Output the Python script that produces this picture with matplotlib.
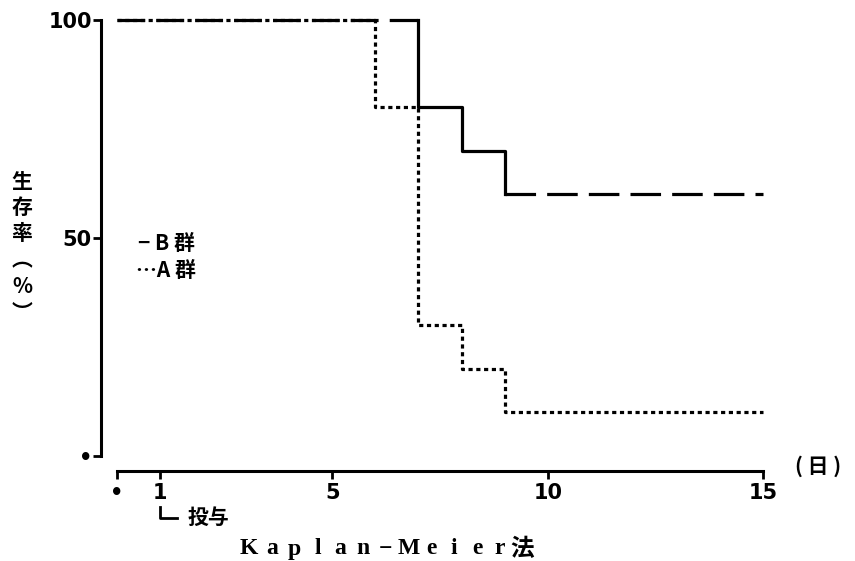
import matplotlib
matplotlib.use('Agg')
import matplotlib.pyplot as plt

plt.rcParams['font.family'] = ['DejaVu Sans', 'Noto Sans CJK JP']
plt.rcParams['lines.scale_dashes'] = False

# Kaplan-Meier survival data (days, % surviving)
b_days = [0, 7, 8, 9, 15]
b_surv = [100, 80, 70, 60, 60]
a_days = [0, 6, 7, 8, 9, 15]
a_surv = [100, 80, 30, 20, 10, 10]

x_ticks = [0, 1, 5, 10, 15]
x_ticklabels = ['\u2022', '1', '5', '10', '15']
y_ticks = [0, 50, 100]
y_ticklabels = ['\u2022', '50', '100']


def km_path(days, surv):
    # step vertices: hold previous value until the event day, then drop
    xs, ys = [days[0]], [surv[0]]
    for d, s in zip(days[1:], surv[1:]):
        xs += [d, d]
        ys += [ys[-1], s]
    return xs, ys


W, H = 855, 561
fig = plt.figure(figsize=(W / 100, H / 100), dpi=100)

# pixel layout of the drawn frame
px_x0, px_xunit = 117, 43.07
px_y0, px_yunit = 456, 4.36
ax_l, ax_r, ax_t, ax_b = 101, 775, 10, 500
ax = fig.add_axes([ax_l / W, 1 - ax_b / H, (ax_r - ax_l) / W, (ax_b - ax_t) / H])
ax.set_xlim((ax_l - px_x0) / px_xunit, (ax_r - px_x0) / px_xunit)
ax.set_ylim(-(ax_b - px_y0) / px_yunit, (px_y0 - ax_t) / px_yunit)

lw = 2.3
bx, by = km_path(b_days, b_surv)
# B group: dashed at the ends, solid through the drops
ax.plot(bx[:2], by[:2], color='black', lw=lw, dashes=(20, 8))
ax.plot(bx[1:7], by[1:7], color='black', lw=lw)
ax.plot(bx[6:], by[6:], color='black', lw=lw, dashes=(22, 8))
# A group: dotted
ax_, ay_ = km_path(a_days, a_surv)
ax.plot(ax_, ay_, color='black', lw=lw, dashes=(3, 2.6))

for s in ['top', 'right']:
    ax.spines[s].set_visible(False)
ax.spines['left'].set_bounds(0, 100)
ax.spines['left'].set_linewidth(2.2)
ax.spines['bottom'].set_position(('data', -(471 - px_y0) / px_yunit))
ax.spines['bottom'].set_bounds(0, 15)
ax.spines['bottom'].set_linewidth(2.2)

ax.set_xticks(x_ticks)
ax.set_xticklabels(x_ticklabels)
ax.set_yticks(y_ticks)
ax.set_yticklabels(y_ticklabels)
ax.tick_params(axis='both', direction='out', width=2, length=5.5,
               labelsize=15, pad=1)
ax.tick_params(axis='x', pad=3)
for lab in ax.get_xticklabels() + ax.get_yticklabels():
    lab.set_fontweight('bold')


def ftext(x, y, s, **kw):
    fig.text(x / W, 1 - y / H, s, **kw)


cjk = ['Noto Sans CJK JP', 'DejaVu Sans']

# y label, stacked vertically
ftext(22, 247, '生\n存\n率\n\ufe35\n%\n\ufe36', ha='center', va='center',
      fontsize=15, fontweight='bold', family=cjk, linespacing=1.3)

# legend
ftext(138, 243, '\u2212 B 群', ha='left', va='center', fontsize=15,
      fontweight='bold', family=cjk)
ftext(136, 270, '\u2026A 群', ha='left', va='center', fontsize=15,
      fontweight='bold', family=cjk)

# day unit
ftext(818, 466, '( 日 )', ha='center', va='center', fontsize=15,
      fontweight='bold', family=cjk)

# dosing annotation
ax.plot([1, 1, 1.4], [-(507 - px_y0) / px_yunit, -(518 - px_y0) / px_yunit,
                      -(518 - px_y0) / px_yunit],
        color='black', lw=2, clip_on=False)
ftext(208, 517, '投与', ha='center', va='center', fontsize=15,
      fontweight='bold', family=cjk)

# method caption, letter spaced
caption = list('Kaplan') + ['\u2212'] + list('Meier') + ['法']
for i, ch in enumerate(caption):
    fam = cjk if ch == '法' else ['Liberation Serif', 'Noto Sans CJK JP']
    ftext(249 + i * 22.8, 549, ch, ha='center', va='center', fontsize=17,
          fontweight='bold', family=fam)

fig.savefig('out.png', dpi=100)
